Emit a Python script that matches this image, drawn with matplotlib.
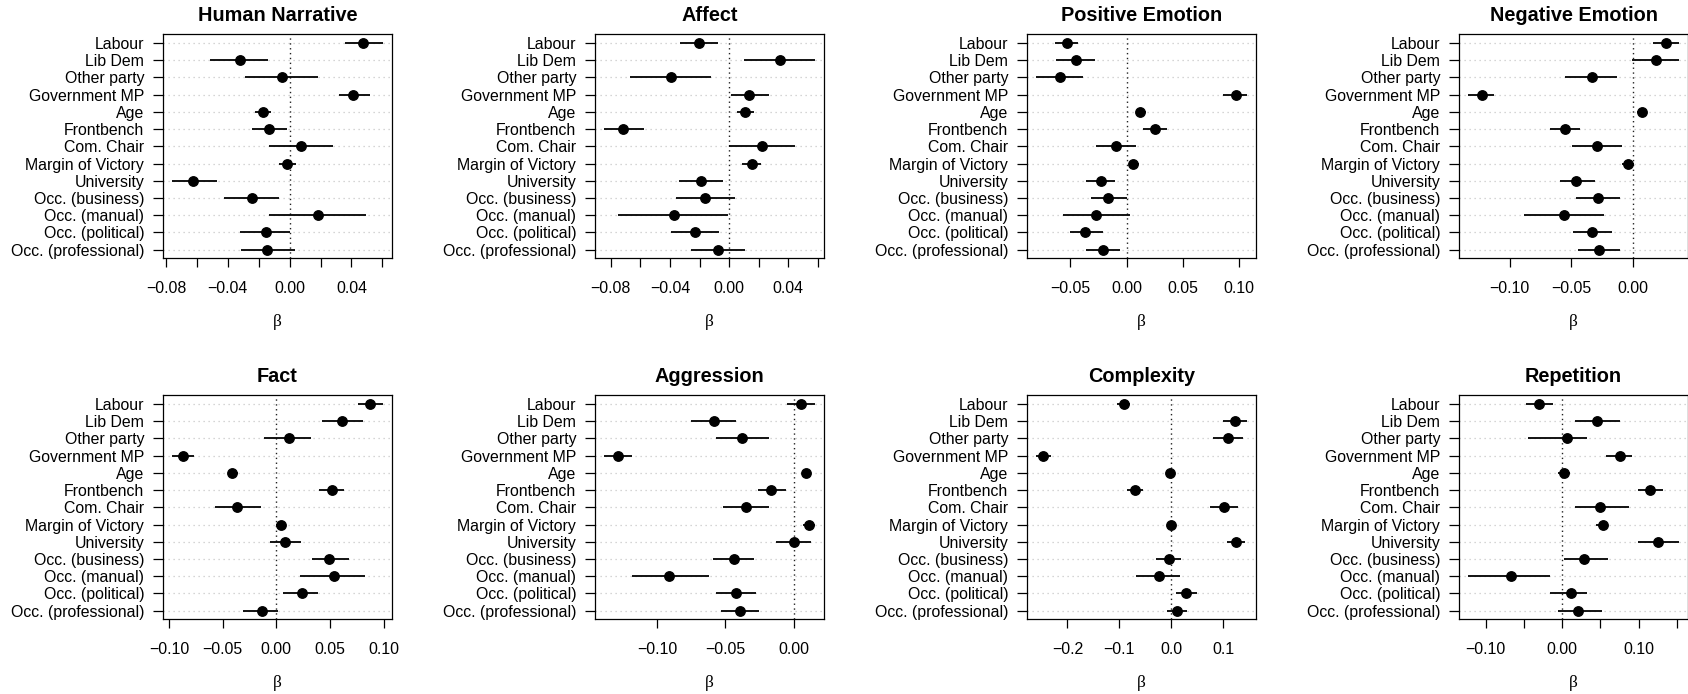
import matplotlib
matplotlib.use("Agg")
import matplotlib.pyplot as plt

# ---------------- data ----------------
variables = ["Labour", "Lib Dem", "Other party", "Government MP", "Age", "Frontbench",
             "Com. Chair", "Margin of Victory", "University", "Occ. (business)",
             "Occ. (manual)", "Occ. (political)", "Occ. (professional)"]

panel_titles = ["Human Narrative", "Affect", "Positive Emotion", "Negative Emotion",
                "Fact", "Aggression", "Complexity", "Repetition"]

human_narrative_est = [0.0473, -0.0323, -0.0047, 0.0413, -0.0172, -0.0133, 0.0075, -0.0015, -0.0624, -0.0245, 0.0183, -0.0155, -0.0144]
human_narrative_lo = [0.0359, -0.0516, -0.0290, 0.0318, -0.0226, -0.0241, -0.0135, -0.0069, -0.0763, -0.0428, -0.0135, -0.0323, -0.0312]
human_narrative_hi = [0.0606, -0.0140, 0.0183, 0.0520, -0.0118, -0.0017, 0.0280, 0.0043, -0.0473, -0.0071, 0.0495, 0.0000, 0.0037]

affect_est = [-0.0202, 0.0347, -0.0396, 0.0132, 0.0110, -0.0717, 0.0224, 0.0152, -0.0188, -0.0161, -0.0370, -0.0231, -0.0076]
affect_lo = [-0.0334, 0.0103, -0.0672, 0.0013, 0.0054, -0.0847, 0.0000, 0.0087, -0.0336, -0.0358, -0.0748, -0.0390, -0.0255]
affect_hi = [-0.0072, 0.0582, -0.0125, 0.0271, 0.0170, -0.0576, 0.0443, 0.0213, -0.0038, 0.0040, -0.0009, -0.0067, 0.0108]

positive_emotion_est = [-0.0533, -0.0453, -0.0595, 0.0970, 0.0118, 0.0257, -0.0092, 0.0059, -0.0231, -0.0163, -0.0272, -0.0370, -0.0207]
positive_emotion_lo = [-0.0636, -0.0624, -0.0808, 0.0855, 0.0080, 0.0142, -0.0272, 0.0021, -0.0361, -0.0317, -0.0562, -0.0506, -0.0364]
positive_emotion_hi = [-0.0429, -0.0278, -0.0385, 0.1074, 0.0169, 0.0361, 0.0080, 0.0112, -0.0107, 0.0000, 0.0030, -0.0213, -0.0062]

negative_emotion_est = [0.0265, 0.0184, -0.0332, -0.1227, 0.0076, -0.0549, -0.0295, -0.0041, -0.0465, -0.0281, -0.0562, -0.0335, -0.0278]
negative_emotion_lo = [0.0159, -0.0005, -0.0551, -0.1341, 0.0030, -0.0673, -0.0495, -0.0092, -0.0595, -0.0465, -0.0881, -0.0486, -0.0443]
negative_emotion_hi = [0.0376, 0.0370, -0.0132, -0.1124, 0.0114, -0.0432, -0.0086, 0.0011, -0.0305, -0.0103, -0.0232, -0.0168, -0.0108]

fact_est = [0.0876, 0.0613, 0.0115, -0.0873, -0.0412, 0.0520, -0.0362, 0.0040, 0.0084, 0.0495, 0.0539, 0.0235, -0.0133]
fact_lo = [0.0762, 0.0427, -0.0115, -0.0975, -0.0455, 0.0396, -0.0576, -0.0006, -0.0062, 0.0334, 0.0220, 0.0065, -0.0313]
fact_hi = [0.0997, 0.0811, 0.0325, -0.0768, -0.0353, 0.0632, -0.0142, 0.0093, 0.0226, 0.0675, 0.0830, 0.0393, 0.0019]

aggression_est = [0.0051, -0.0584, -0.0380, -0.1287, 0.0090, -0.0165, -0.0348, 0.0112, 0.0000, -0.0440, -0.0915, -0.0426, -0.0394]
aggression_lo = [-0.0049, -0.0754, -0.0572, -0.1389, 0.0056, -0.0265, -0.0521, 0.0066, -0.0129, -0.0591, -0.1180, -0.0569, -0.0533]
aggression_hi = [0.0151, -0.0426, -0.0182, -0.1182, 0.0119, -0.0056, -0.0185, 0.0156, 0.0127, -0.0294, -0.0623, -0.0280, -0.0253]

complexity_est = [-0.0902, 0.1228, 0.1088, -0.2470, -0.0019, -0.0697, 0.1011, -0.0013, 0.1241, -0.0051, -0.0243, 0.0288, 0.0102]
complexity_lo = [-0.1043, 0.1004, 0.0813, -0.2610, -0.0083, -0.0851, 0.0749, -0.0070, 0.1081, -0.0288, -0.0672, 0.0090, -0.0083]
complexity_hi = [-0.0787, 0.1465, 0.1388, -0.2322, 0.0045, -0.0550, 0.1280, 0.0045, 0.1420, 0.0192, 0.0160, 0.0493, 0.0301]

repetition_est = [-0.0295, 0.0456, 0.0061, 0.0759, 0.0030, 0.1150, 0.0490, 0.0529, 0.1254, 0.0291, -0.0664, 0.0117, 0.0208]
repetition_lo = [-0.0477, 0.0174, -0.0447, 0.0573, -0.0048, 0.0993, 0.0174, 0.0443, 0.0998, 0.0026, -0.1232, -0.0152, -0.0052]
repetition_hi = [-0.0121, 0.0755, 0.0321, 0.0920, 0.0104, 0.1323, 0.0876, 0.0603, 0.1531, 0.0594, -0.0152, 0.0325, 0.0521]

# x tick positions and labels per panel
ticks_a = [-0.08, -0.06, -0.04, -0.02, 0.00, 0.02, 0.04, 0.06]
labels_a = ["\u22120.08", "", "\u22120.04", "", "0.00", "", "0.04", ""]
ticks_pos = [-0.05, 0.00, 0.05, 0.10]
labels_pos = ["\u22120.05", "0.00", "0.05", "0.10"]
ticks_neg = [-0.10, -0.05, 0.00]
labels_neg = ["\u22120.10", "\u22120.05", "0.00"]
ticks_fact = [-0.10, -0.05, 0.00, 0.05, 0.10]
labels_fact = ["\u22120.10", "\u22120.05", "0.00", "0.05", "0.10"]
ticks_comp = [-0.2, -0.1, 0.0, 0.1]
labels_comp = ["\u22120.2", "\u22120.1", "0.0", "0.1"]
ticks_rep = [-0.10, -0.05, 0.00, 0.05, 0.10, 0.15]
labels_rep = ["\u22120.10", "", "0.00", "", "0.10", ""]

panels = [
    (human_narrative_est, human_narrative_lo, human_narrative_hi, ticks_a, labels_a),
    (affect_est, affect_lo, affect_hi, ticks_a, labels_a),
    (positive_emotion_est, positive_emotion_lo, positive_emotion_hi, ticks_pos, labels_pos),
    (negative_emotion_est, negative_emotion_lo, negative_emotion_hi, ticks_neg, labels_neg),
    (fact_est, fact_lo, fact_hi, ticks_fact, labels_fact),
    (aggression_est, aggression_lo, aggression_hi, ticks_neg, labels_neg),
    (complexity_est, complexity_lo, complexity_hi, ticks_comp, labels_comp),
    (repetition_est, repetition_lo, repetition_hi, ticks_rep, labels_rep),
]

# ---------------- figure ----------------
plt.rcParams["font.family"] = ["Liberation Sans", "DejaVu Sans"]
W, H = 1688, 694
fig = plt.figure(figsize=(W / 100, H / 100), dpi=100)

box_lefts = [163.3, 595.3, 1027.3, 1459.3]
box_w = 228.4
row_tops = [34.3, 395.3]
box_h = 224.0

ypos = list(range(1, len(variables) + 1))

for i, (est, lo, hi, ticks, tlabels) in enumerate(panels):
    r, c = divmod(i, 4)
    left = box_lefts[c] / W
    bottom = (H - row_tops[r] - box_h) / H
    ax = fig.add_axes([left, bottom, box_w / W, box_h / H])

    for y in ypos:
        ax.axhline(y, color="#c8c8c8", lw=0.9, ls=(0, (1, 3)), zorder=0)
    ax.axvline(0, color="#222222", lw=1.0, ls=(0, (1, 2.5)), zorder=1)
    ax.hlines(ypos, lo, hi, color="black", lw=1.3, zorder=2)
    ax.plot(est, ypos, "o", color="black", ms=6.8, zorder=3)

    xmin, xmax = min(lo), max(hi)
    ext = 0.04 * (xmax - xmin)
    ax.set_xlim(xmin - ext, xmax + ext)
    ax.set_ylim(len(variables) + 0.5, 0.5)

    ax.set_yticks(ypos)
    ax.set_yticklabels(variables, fontsize=11.4)
    ax.set_xticks(ticks)
    ax.set_xticklabels(tlabels, fontsize=11.4)
    ax.tick_params(axis="y", length=7.2, width=0.9, pad=6.5)
    ax.tick_params(axis="x", length=6.5, width=0.9, pad=10)
    for s in ax.spines.values():
        s.set_linewidth(0.9)

    ax.text(0.5, 1 + 18.5 / box_h, panel_titles[i], transform=ax.transAxes,
            ha="center", va="center", fontsize=14.3, fontweight="bold")
    ax.text(0.5, -63.5 / box_h, "\u03b2", transform=ax.transAxes,
            ha="center", va="center", fontsize=12.5, family=["Liberation Serif", "DejaVu Serif"])

fig.savefig("out.png", dpi=100)
